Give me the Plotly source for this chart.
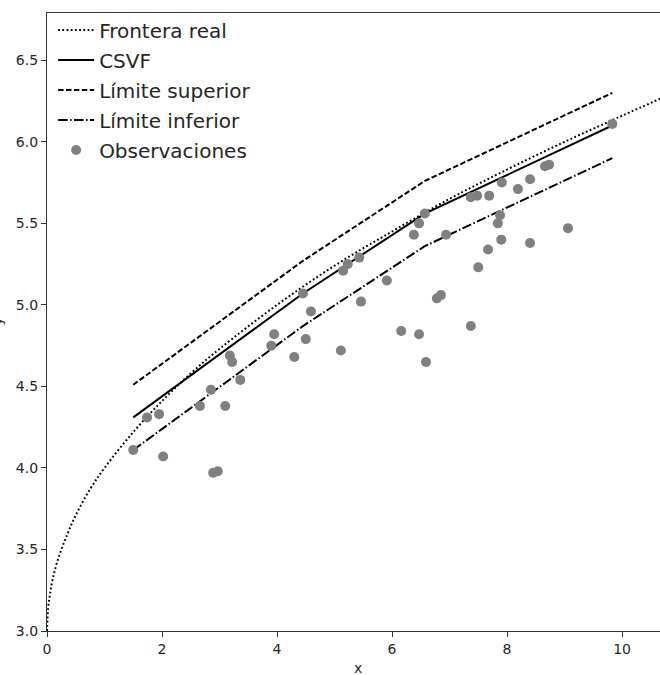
import plotly.graph_objects as go

# Frontera real (dotted curve)
front_x = [0, 0.02, 0.05, 0.1, 0.2, 0.35, 0.5, 0.75, 1.0, 1.5, 2.0, 2.5, 3.0, 4.0, 5.0, 6.0, 7.0, 8.0, 9.0, 10.0, 10.7]
front_y = [3.0, 3.14, 3.22, 3.32, 3.45, 3.59, 3.71, 3.87, 4.0, 4.22, 4.41, 4.58, 4.73, 5.0, 5.24, 5.45, 5.65, 5.83, 6.0, 6.16, 6.27]

# CSVF and limits (piecewise linear)
csvf_x = [1.50, 4.45, 6.57, 9.83]
csvf_y = [4.31, 5.07, 5.56, 6.10]
sup_y = [4.51, 5.27, 5.76, 6.30]
inf_y = [4.11, 4.87, 5.36, 5.90]

# Observations
obs_x = [1.50, 1.74, 1.95, 2.02, 2.66, 2.85, 2.89, 2.97, 3.10, 3.18, 3.22, 3.36, 3.90, 3.95,
         4.30, 4.45, 4.50, 4.59, 5.11, 5.15, 5.23, 5.43, 5.46, 5.91, 6.16, 6.38, 6.47, 6.47,
         6.57, 6.59, 6.78, 6.85, 6.94, 7.37, 7.37, 7.48, 7.50, 7.67, 7.69, 7.84, 7.88, 7.90,
         7.91, 8.19, 8.40, 8.40, 8.66, 8.73, 9.06, 9.83]
obs_y = [4.11, 4.31, 4.33, 4.07, 4.38, 4.48, 3.97, 3.98, 4.38, 4.69, 4.65, 4.54, 4.75, 4.82,
         4.68, 5.07, 4.79, 4.96, 4.72, 5.21, 5.25, 5.29, 5.02, 5.15, 4.84, 5.43, 4.82, 5.50,
         5.56, 4.65, 5.04, 5.06, 5.43, 5.66, 4.87, 5.67, 5.23, 5.34, 5.67, 5.50, 5.55, 5.40,
         5.75, 5.71, 5.77, 5.38, 5.85, 5.86, 5.47, 6.11]

FONT = "DejaVu Sans"
TXT = "#262626"

fig = go.Figure()
fig.add_trace(go.Scatter(x=front_x, y=front_y, mode="lines", name="Frontera real",
                         line=dict(color="black", width=2, dash="1.8px,2.4px", shape="spline"),
                         legendgroup="a"))
fig.add_trace(go.Scatter(x=csvf_x, y=csvf_y, mode="lines", name="CSVF",
                         line=dict(color="black", width=2), legendgroup="b"))
fig.add_trace(go.Scatter(x=csvf_x, y=sup_y, mode="lines", name="Límite superior",
                         line=dict(color="black", width=2, dash="5.5px,2.4px"), legendgroup="c"))
fig.add_trace(go.Scatter(x=csvf_x, y=inf_y, mode="lines", name="Límite inferior",
                         line=dict(color="black", width=2, dash="9.6px,2.4px,1.5px,2.4px"), legendgroup="d"))
fig.add_trace(go.Scatter(x=obs_x, y=obs_y, mode="markers", name="Observaciones",
                         marker=dict(color="#808080", size=10), legendgroup="e"))

axis_common = dict(
    showgrid=False, zeroline=False, showline=True, linecolor="#333333", linewidth=1.2,
    ticks="outside", ticklen=5, tickwidth=1.2, tickcolor="#333333",
    tickfont=dict(family=FONT, size=14, color=TXT),
)

fig.update_xaxes(range=[0, 10.66], tickvals=[0, 2, 4, 6, 8, 10], mirror=True, **axis_common)
fig.update_yaxes(range=[3.0, 6.79], tickvals=[3.0, 3.5, 4.0, 4.5, 5.0, 5.5, 6.0, 6.5],
                 ticktext=["3.0", "3.5", "4.0", "4.5", "5.0", "5.5", "6.0", "6.5"], **axis_common)

fig.add_annotation(text="x", xref="paper", yref="paper", x=0.507, y=-0.06, yanchor="middle",
                   showarrow=False, font=dict(family=FONT, size=14, color=TXT))
fig.add_annotation(text="y", xref="paper", yref="paper", x=-0.066, y=0.5, xanchor="right",
                   textangle=-90, showarrow=False, font=dict(family=FONT, size=14, color=TXT))

fig.update_layout(
    width=660, height=675,
    margin=dict(l=47, r=0, t=13, b=44),
    plot_bgcolor="white", paper_bgcolor="white",
    font=dict(family=FONT, color=TXT),
    legend=dict(x=0.01, y=1.004, xanchor="left", yanchor="top", bgcolor="rgba(0,0,0,0)",
                font=dict(family=FONT, size=20, color=TXT), tracegroupgap=1,
                itemwidth=36),
    showlegend=True,
)

fig.write_html("out.html")
